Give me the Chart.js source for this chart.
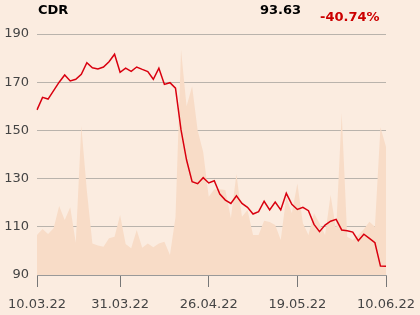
<!DOCTYPE html>
<html lang="en">
<head>
  <meta charset="UTF-8" />
  <title>CDR</title>
  <script src="https://cdn.jsdelivr.net/npm/chart.js"></script>
  <style>
    html, body { margin: 0; padding: 0; background: #fbece0; }
    .wrap { position: relative; width: 420px; height: 315px; font-family: "DejaVu Sans", sans-serif; }
    .head { position: absolute; font-weight: bold; font-size: 13px; line-height: 16px; }
    #ticker { left: 38px; top: 2px; color: #000; }
    #last { left: 260px; top: 2px; color: #000; }
    #change { left: 320px; top: 9px; color: #cc0000; }
    canvas { position: absolute; left: 0; top: 0; }
  </style>
</head>
<body>
  <div class="wrap">
    <canvas id="chart" width="420" height="315"></canvas>
    <div class="head" id="ticker">CDR</div>
    <div class="head" id="last">93.63</div>
    <div class="head" id="change">-40.74%</div>
  </div>

  <script>
    // trading days 10.03.22 - 10.06.22
    const dates = [
      '10.03.22','11.03.22','14.03.22','15.03.22','16.03.22','17.03.22','18.03.22','21.03.22',
      '22.03.22','23.03.22','24.03.22','25.03.22','28.03.22','29.03.22','30.03.22','31.03.22',
      '01.04.22','04.04.22','05.04.22','06.04.22','07.04.22','08.04.22','11.04.22','12.04.22',
      '13.04.22','14.04.22','19.04.22','20.04.22','21.04.22','22.04.22','25.04.22','26.04.22',
      '27.04.22','28.04.22','29.04.22','02.05.22','04.05.22','05.05.22','06.05.22','09.05.22',
      '10.05.22','11.05.22','12.05.22','13.05.22','16.05.22','17.05.22','18.05.22','19.05.22',
      '20.05.22','23.05.22','24.05.22','25.05.22','26.05.22','27.05.22','30.05.22','31.05.22',
      '01.06.22','02.06.22','03.06.22','06.06.22','07.06.22','08.06.22','09.06.22','10.06.22'
    ];

    const prices = [
      158.5, 163.7, 163.0, 166.5, 170.0, 173.0, 170.5, 171.2,
      173.3, 178.1, 176.0, 175.5, 176.3, 178.5, 181.6, 174.1,
      175.8, 174.5, 176.3, 175.3, 174.4, 171.2, 175.8, 169.1,
      169.8, 167.5, 150.2, 137.7, 128.7, 127.9, 130.4, 128.2,
      129.1, 123.6, 121.1, 119.7, 122.9, 119.7, 118.1, 115.3,
      116.3, 120.6, 117.0, 120.3, 117.0, 123.9, 119.3, 117.2,
      118.1, 116.7, 111.0, 108.0, 110.7, 112.3, 113.1, 108.7,
      108.4, 107.8, 104.2, 106.9, 105.2, 103.4, 93.7, 93.63
    ];

    // turnover, relative units (hidden axis)
    const volume = [
      16.6, 19.1, 17.0, 19.4, 28.6, 22.8, 28.1, 13.4,
      61.8, 35.0, 13.1, 12.2, 11.7, 15.2, 15.9, 24.9,
      12.9, 11.1, 18.7, 11.3, 13.1, 11.5, 13.1, 13.8,
      8.3, 24.0, 93.5, 70.0, 78.3, 60.0, 51.0, 32.5,
      35.6, 35.6, 35.3, 23.5, 41.9, 24.2, 27.0, 16.6,
      16.6, 22.5, 22.0, 20.7, 14.5, 32.5, 25.6, 38.0,
      21.5, 16.6, 25.6, 21.5, 16.6, 33.2, 18.7, 67.2,
      15.9, 14.5, 16.6, 19.0, 22.1, 20.0, 61.3, 53.2
    ];

    const tickLabels = ['10.03.22', '31.03.22', '26.04.22', '19.05.22', '10.06.22'];
    const yTicks = [90, 110, 130, 150, 170, 190];

    new Chart(document.getElementById('chart'), {
      type: 'line',
      data: {
        labels: dates,
        datasets: [
          {
            label: 'CDR',
            data: prices,
            yAxisID: 'y',
            borderColor: '#d9000f',
            borderWidth: 1.5,
            pointRadius: 0,
            tension: 0,
            fill: false
          },
          {
            label: 'Volume',
            data: volume,
            yAxisID: 'y1',
            borderWidth: 0,
            backgroundColor: '#f8dcc7',
            pointRadius: 0,
            tension: 0,
            fill: 'start'
          }
        ]
      },
      options: {
        responsive: false,
        animation: false,
        layout: { padding: { top: 34, right: 34, left: 0, bottom: 0 } },
        plugins: { legend: { display: false }, tooltip: { enabled: false } },
        scales: {
          x: {
            afterFit: s => {
              s.height = 40;
              s.paddingLeft = 0;
              s.paddingRight = 0;
            },
            grid: { drawOnChartArea: false, color: '#777', tickLength: 12 },
            border: { color: '#999' },
            ticks: {
              autoSkip: false,
              maxRotation: 0,
              padding: 10,
              color: '#444',
              font: { family: 'DejaVu Sans', size: 13 },
              callback: function (v) {
                const l = this.getLabelForValue(v);
                return tickLabels.includes(l) ? l : null;
              }
            }
          },
          y: {
            min: 90,
            max: 190,
            afterFit: s => { s.width = 37; },
            afterBuildTicks: s => { s.ticks = yTicks.map(v => ({ value: v })); },
            grid: { color: '#b9b3ac', drawTicks: false },
            border: { display: false },
            ticks: {
              padding: 8,
              color: '#444',
              font: { family: 'DejaVu Sans', size: 13 }
            }
          },
          y1: {
            display: false,
            min: 0,
            max: 100
          }
        }
      }
    });
  </script>
</body>
</html>
